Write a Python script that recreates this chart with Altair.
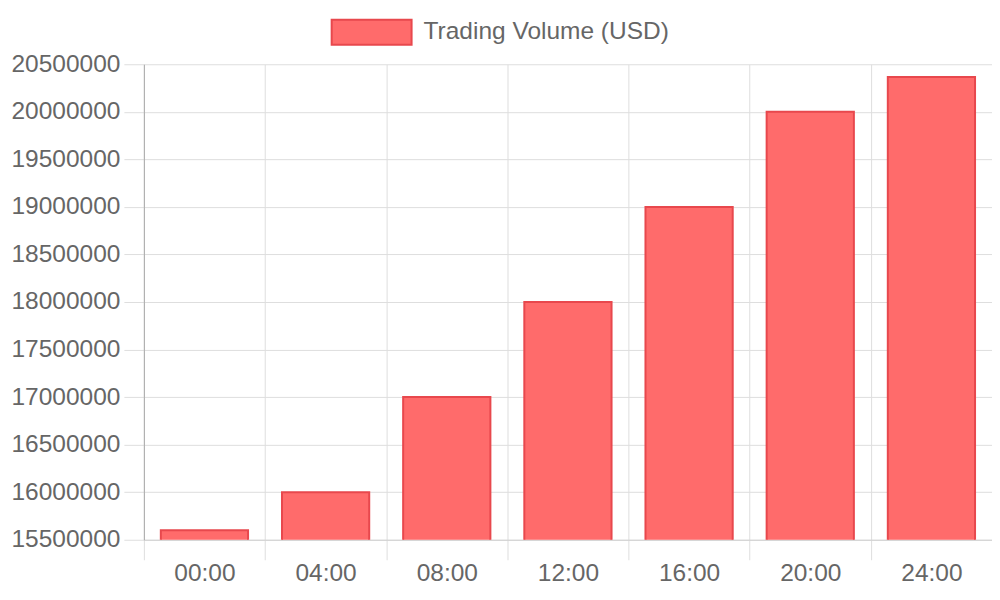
import altair as alt
import pandas as pd

hours = ["00:00", "04:00", "08:00", "12:00", "16:00", "20:00", "24:00"]
volumes = [15600000, 16000000, 17000000, 18000000, 19000000, 20000000, 20365000]
series = "Trading Volume (USD)"
y_ticks = list(range(15500000, 20500001, 500000))

df = pd.DataFrame({"hour": hours, "volume": volumes, "series": [series] * len(hours)})

FONT = "Liberation Sans"
GRID = "#dedede"

chart = alt.Chart(df).mark_bar(
    stroke="#E8484D", strokeWidth=2, fillOpacity=1, clip=True,
    width=alt.RelativeBandSize(0.72),
).encode(
    x=alt.X(
        "hour:N",
        sort=hours,
        title=None,
        scale=alt.Scale(paddingInner=0, paddingOuter=0),
        axis=alt.Axis(
            labelAngle=0,
            labelFontSize=24.5,
            labelColor="#666666",
            labelFont=FONT,
            labelPadding=2,
            tickBand="extent",
            tickSize=20,
            tickColor=GRID,
            grid=True,
            gridColor=GRID,
            domainColor="#d0d0d0",
        ),
    ),
    y=alt.Y(
        "volume:Q",
        title=None,
        scale=alt.Scale(domain=[15500000, 20500000], zero=False, nice=False),
        axis=alt.Axis(
            values=y_ticks,
            format="d",
            labelFontSize=24.5,
            labelColor="#666666",
            labelFont=FONT,
            labelPadding=4,
            tickSize=20,
            tickColor=GRID,
            gridColor=GRID,
            domainColor="#aaaaaa",
        ),
    ),
    color=alt.Color(
        "series:N",
        scale=alt.Scale(domain=[series], range=["#FF6B6B"]),
        legend=alt.Legend(
            title=None,
            orient="none",
            legendX=187,
            legendY=-73,
            direction="horizontal",
            symbolType="M-1,-0.3125H1V0.3125H-1Z",
            symbolSize=6400,
            symbolStrokeColor="#E8484D",
            symbolStrokeWidth=2,
            symbolOpacity=1,
            labelFontSize=24.5,
            labelFont=FONT,
            labelColor="#666666",
            labelOffset=11,
            labelLimit=0,
            padding=0,
        ),
    ),
).properties(
    width=849,
    height=476,
    autosize=alt.AutoSizeParams(type="none"),
    padding={"left": 136, "top": 56, "right": 0, "bottom": 60},
).configure_view(stroke=None)

chart.save("out.html", embed_options={"renderer": "svg", "actions": False})
